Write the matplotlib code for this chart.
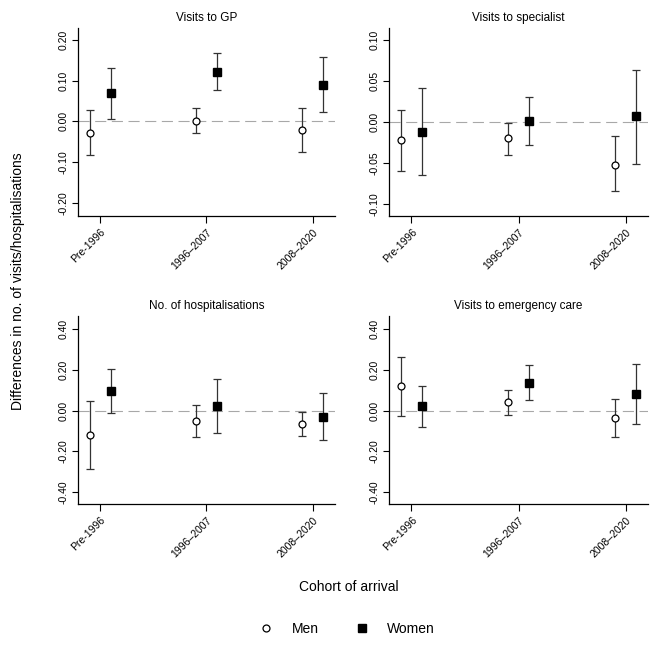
import matplotlib
matplotlib.use("Agg")
import matplotlib.pyplot as plt
from matplotlib.lines import Line2D
import numpy as np

plt.rcParams['font.family'] = ['Liberation Sans', 'DejaVu Sans']

cohorts = ["Pre-1996", "1996\u20132007", "2008\u20132020"]
titles = ["Visits to GP", "Visits to specialist", "No. of hospitalisations", "Visits to emergency care"]

# Men: estimate, lower, upper
gp_men = [-0.028, 0.002, -0.020]
gp_men_lo = [-0.083, -0.029, -0.074]
gp_men_hi = [0.028, 0.032, 0.032]
gp_women = [0.069, 0.122, 0.090]
gp_women_lo = [0.007, 0.078, 0.023]
gp_women_hi = [0.130, 0.168, 0.158]

sp_men = [-0.022, -0.020, -0.052]
sp_men_lo = [-0.060, -0.040, -0.085]
sp_men_hi = [0.015, -0.001, -0.017]
sp_women = [-0.012, 0.001, 0.007]
sp_women_lo = [-0.065, -0.028, -0.051]
sp_women_hi = [0.042, 0.030, 0.064]

ho_men = [-0.121, -0.052, -0.064]
ho_men_lo = [-0.286, -0.132, -0.123]
ho_men_hi = [0.047, 0.025, -0.005]
ho_women = [0.096, 0.023, -0.031]
ho_women_lo = [-0.013, -0.108, -0.146]
ho_women_hi = [0.204, 0.157, 0.085]

em_men = [0.118, 0.043, -0.039]
em_men_lo = [-0.028, -0.020, -0.132]
em_men_hi = [0.262, 0.101, 0.056]
em_women = [0.020, 0.136, 0.082]
em_women_lo = [-0.082, 0.051, -0.065]
em_women_hi = [0.118, 0.221, 0.229]

yticks_list = [[-0.2, -0.1, 0.0, 0.1, 0.2],
               [-0.10, -0.05, 0.0, 0.05, 0.10],
               [-0.4, -0.2, 0.0, 0.2, 0.4],
               [-0.4, -0.2, 0.0, 0.2, 0.4]]
ylims = [(-0.232, 0.229), (-0.115, 0.115), (-0.459, 0.464), (-0.459, 0.464)]

panels = [
    (gp_men, gp_men_lo, gp_men_hi, gp_women, gp_women_lo, gp_women_hi),
    (sp_men, sp_men_lo, sp_men_hi, sp_women, sp_women_lo, sp_women_hi),
    (ho_men, ho_men_lo, ho_men_hi, ho_women, ho_women_lo, ho_women_hi),
    (em_men, em_men_lo, em_men_hi, em_women, em_women_lo, em_women_hi),
]

W = H = 664
fig = plt.figure(figsize=(6.64, 6.64), dpi=100)

def rect(x0, y0, x1, y1):
    return [x0 / W, 1 - y1 / H, (x1 - x0) / W, (y1 - y0) / H]

rects = [rect(78, 28, 335, 216), rect(389, 28, 648, 216),
         rect(78, 316, 335, 504), rect(389, 316, 648, 504)]

ecol = '#333333'
off = 0.1
for i, (data, r) in enumerate(zip(panels, rects)):
    ax = fig.add_axes(r)
    m, mlo, mhi, w, wlo, whi = [np.array(d) for d in data]
    x = np.arange(len(cohorts))
    ax.axhline(0, color='#a8a8a8', lw=0.8, dashes=(10, 5), zorder=1)
    ax.errorbar(x - off, m, yerr=[m - mlo, mhi - m], fmt='o', ms=5,
                mfc='white', mec='black', mew=0.9, ecolor=ecol,
                elinewidth=0.9, capsize=2.6, capthick=0.9, zorder=3)
    ax.errorbar(x + off, w, yerr=[w - wlo, whi - w], fmt='s', ms=5.5,
                mfc='black', mec='black', ecolor=ecol,
                elinewidth=0.9, capsize=2.6, capthick=0.9, zorder=3)
    ax.set_xlim(-0.21, 2.21)
    ax.set_ylim(*ylims[i])
    ax.set_yticks(yticks_list[i])
    ax.set_yticklabels([f"{t:.2f}" for t in yticks_list[i]], rotation=90,
                       va='center', fontsize=7.5)
    ax.set_xticks(x)
    ax.set_xticklabels(cohorts, rotation=45, ha='right',
                       rotation_mode='anchor', fontsize=7.5)
    ax.tick_params(axis='both', direction='out', length=4, width=0.8,
                   color='black', pad=3)
    ax.tick_params(axis='x', length=5)
    for s in ['top', 'right']:
        ax.spines[s].set_visible(False)
    for s in ['left', 'bottom']:
        ax.spines[s].set_linewidth(0.9)
    ax.set_title(titles[i], fontsize=8.5, pad=5)

fig.text(18 / W, 1 - 281 / H, "Differences in no. of visits/hospitalisations",
         rotation=90, ha='center', va='center', fontsize=10)
fig.text(349 / W, 1 - 587 / H, "Cohort of arrival", ha='center',
         va='center', fontsize=10)

handles = [Line2D([], [], marker='o', ls='none', ms=5, mfc='white',
                  mec='black', mew=0.9),
           Line2D([], [], marker='s', ls='none', ms=6, mfc='black',
                  mec='black')]
fig.legend(handles, ["Men", "Women"], loc='center',
           bbox_to_anchor=(347 / W, 1 - 629 / H), ncol=2, frameon=False,
           fontsize=10, handlelength=1.0, handletextpad=1.35,
           columnspacing=2.6)

fig.savefig("out.png", dpi=100)
